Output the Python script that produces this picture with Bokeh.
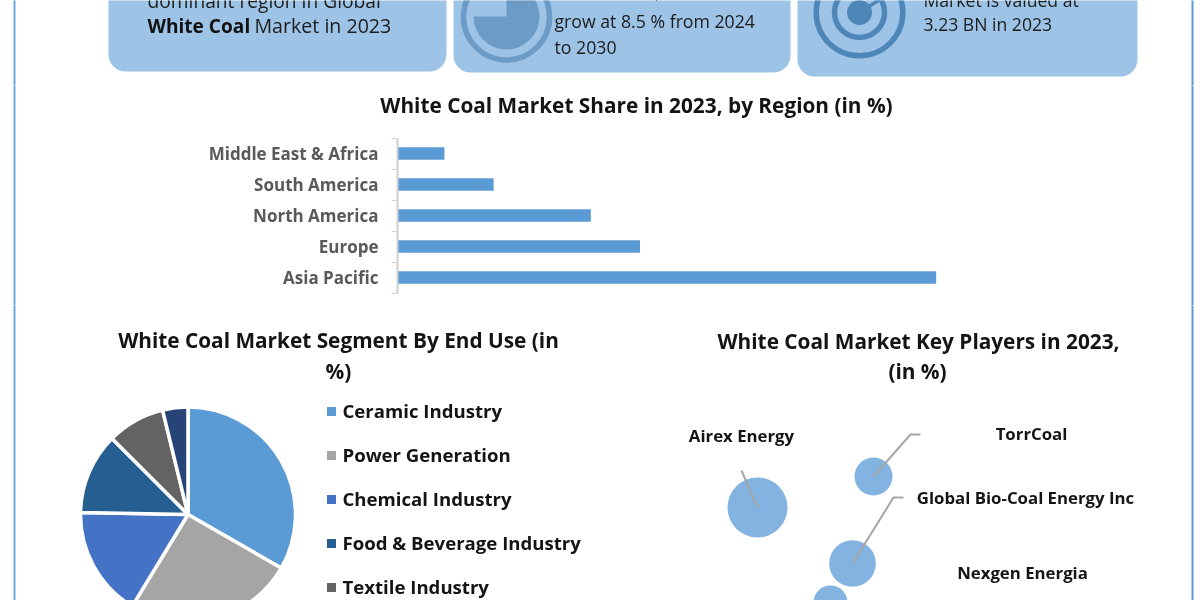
from math import pi
from bokeh.plotting import figure
from bokeh.layouts import column, row
from bokeh.models import Range1d, FixedTicker, BoxAnnotation, Label
from bokeh.core.properties import value
from bokeh.embed import file_html
from bokeh.resources import INLINE

FONT = "Open Sans"

# Data
regions = ["Asia Pacific", "Europe", "North America", "South America", "Middle East & Africa"]
region_share = [48.2, 21.7, 17.3, 8.6, 4.2]

end_use = ["Ceramic Industry", "Power Generation", "Chemical Industry",
           "Food & Beverage Industry", "Textile Industry"]
end_use_share = [33.3, 25.4, 16.6, 12.2, 8.7, 3.8]
end_use_colors = ["#5b9bd5", "#a5a5a5", "#4472c4", "#255e91", "#636363", "#264478"]

players = ["Airex Energy", "TorrCoal", "Global Bio-Coal Energy Inc", "Nexgen Energia"]
player_x = [757, 873, 852, 830]
player_y = [93, 124, 37, -2]
player_radius = [30, 19, 23.3, 17]
player_label_x = [741, 1031, 1025, 1022]
player_label_y = [165, 167, 103, 28]


def Y(py):
    return 600 - py


def panel(w, h, x0, top):
    p = figure(width=w, height=h, x_range=Range1d(x0, x0 + w),
               y_range=Range1d(Y(top + h), Y(top)), toolbar_location=None,
               output_backend="svg", min_border=0, outline_line_color=None,
               background_fill_color="white", border_fill_color="white")
    p.axis.visible = False
    p.grid.visible = False
    return p


def edge_lines(p, locations):
    for loc, col in locations:
        p.line([loc, loc], [-2000, 2000], line_color=col, line_width=2)


def words(p, x, py, txt, size, bold=False, color="#1c1c1c", align="left"):
    p.text([x], [Y(py - 1)], text=[txt], text_font=value(FONT), text_font_size=size,
           text_font_style="bold" if bold else "normal", text_color=color,
           text_align=align, text_baseline="middle")


# ---------- header ----------
head = panel(1200, 85, 0, 0)
for l, r, b in [(108, 446, 71), (453, 790, 72), (797, 1137, 76)]:
    head.add_layout(BoxAnnotation(left=l, right=r, bottom=Y(b), top=Y(-30), fill_color="#9dc3e6",
                                  fill_alpha=1, line_color=None, border_radius=17, level="underlay"))
RING = "#6c9bc6"
head.circle([506], [Y(16.5)], radius=43, fill_color=None, line_color=RING, line_width=5.5)
head.wedge([506], [Y(16)], radius=33, start_angle=pi, end_angle=pi / 2, direction="anticlock",
           fill_color=RING, line_color=None)
TGT = "#4f86b8"
for rad in (43.3, 25):
    head.circle([859], [Y(12)], radius=rad, fill_color=None, line_color=TGT, line_width=5.5)
head.line([866, 890], [Y(5), Y(-10)], line_color="#9dc3e6", line_width=8)
head.line([859, 884], [Y(12), Y(-4)], line_color=TGT, line_width=3.5)
head.circle([859], [Y(12)], radius=12.5, fill_color=TGT, line_color=None)

words(head, 147, 1, "dominant region in Global", "19.2px")
words(head, 147, 26, "White Coal", "19.1px", bold=True, color="#111111")
words(head, 254, 26, "Market in 2023", "19.6px")
words(head, 554, -10, "Market is expected to", "17.7px")
words(head, 554, 21, "grow at 8.5 % from 2024", "17.7px")
words(head, 554, 47, "to 2030", "17.7px")
words(head, 923, 0, "Market is valued at", "17.6px")
words(head, 923, 24, "3.23 BN in 2023", "17.6px")
edge_lines(head, [(14, "#6fa8e0"), (1192, "#5b9bd5")])

# ---------- bars ----------
SCALE = 11.175
bar = figure(width=1200, height=220, toolbar_location=None, output_backend="svg",
             x_range=Range1d(-397 / SCALE, 803 / SCALE),
             y_range=Range1d(-28 / 31, 192 / 31), min_border=0,
             outline_line_color=None, background_fill_color="white", border_fill_color="white")
bar.grid.visible = False
bar.xaxis.visible = False
bar.hbar(y=list(range(len(regions))), right=region_share, left=0, height=0.41, fill_color="#5b9bd5",
         line_color=None)
bar.add_layout(Label(x=636, y=201, x_units="screen", y_units="screen", text_align="center",
                     text_baseline="middle", text="White Coal Market Share in 2023, by Region (in %)",
                     text_font=FONT, text_font_size="20.8px", text_font_style="bold", text_color="#141414"))
ax = bar.yaxis[0]
ax.fixed_location = 0
ax.ticker = FixedTicker(ticks=list(range(len(regions))),
                        minor_ticks=[i - 0.5 for i in range(len(regions) + 1)])
ax.major_label_overrides = {i: n for i, n in enumerate(regions)}
ax.bounds = (-0.5, 4.5)
ax.axis_line_color = "#d0d0d0"
ax.axis_line_width = 2
ax.major_tick_line_color = None
ax.minor_tick_line_color = "#d0d0d0"
ax.minor_tick_out = 6
ax.minor_tick_in = 0
ax.major_label_standoff = 13
ax.major_label_text_font = FONT
ax.major_label_text_font_size = "17px"
ax.major_label_text_font_style = "bold"
ax.major_label_text_color = "#595959"
edge_lines(bar, [(-383 / SCALE, "#6fa8e0"), (795 / SCALE, "#5b9bd5")])

# ---------- pie ----------
pie = panel(640, 295, 0, 305)
total = sum(end_use_share)
cum = 0.0
starts, ends = [], []
for v in end_use_share:
    starts.append(pi / 2 - cum / total * 2 * pi)
    cum += v
    ends.append(pi / 2 - cum / total * 2 * pi)
pie.wedge(x=[187.5] * 6, y=[Y(514)] * 6, radius=107.5, start_angle=starts, end_angle=ends,
          direction="clock", fill_color=end_use_colors, line_color="white", line_width=3.5)
words(pie, 338, 340, "White Coal Market Segment By End Use (in", "20.8px", bold=True, align="center", color="#141414")
words(pie, 338, 371, "%)", "20.8px", bold=True, align="center", color="#141414")
for i, name in enumerate(end_use):
    py = 411 + 44 * i
    pie.scatter([331], [Y(py)], marker="square", size=9, fill_color=end_use_colors[i], line_color=None)
    words(pie, 342, py, name, "18.6px", bold=True, color="#141414")
edge_lines(pie, [(14, "#6fa8e0")])

# ---------- bubbles ----------
bub = panel(560, 295, 640, 305)
bub.circle(x=player_x, y=player_y, radius=player_radius, fill_color="#83b3e0", line_color=None)
G = "#a6a6a6"
bub.line([757, 741], [Y(507), Y(470)], line_color=G, line_width=2)
bub.line([873, 910, 920], [Y(476), Y(434), Y(434)], line_color=G, line_width=2)
bub.line([852, 893, 903], [Y(563), Y(497), Y(497)], line_color=G, line_width=2)
for i, name in enumerate(players):
    bub.text([player_label_x[i]], [player_label_y[i]], text=[name], text_font=value(FONT),
             text_font_size="16.8px", text_font_style="bold", text_color="#141414",
             text_align="center", text_baseline="middle")
words(bub, 918, 341, "White Coal Market Key Players in 2023,", "20.8px", bold=True, align="center", color="#141414")
words(bub, 917, 371, "(in %)", "20.8px", bold=True, align="center", color="#141414")
edge_lines(bub, [(1192, "#5b9bd5")])

page = column(head, bar, row(pie, bub, spacing=0), spacing=0,
              styles={"position": "fixed", "left": "0px", "top": "0px"})

open("out.html", "w").write(file_html(page, INLINE))
